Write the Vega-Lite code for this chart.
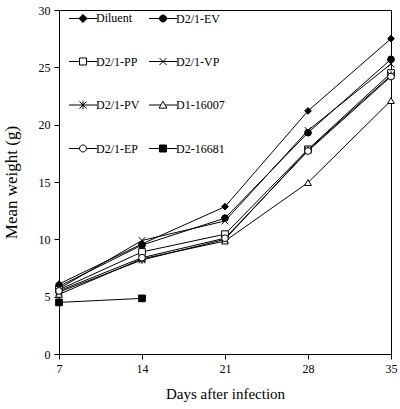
{
  "$schema": "https://vega.github.io/schema/vega-lite/v6.json",
  "autosize": {"type": "none"},
  "padding": {"left": 59, "top": 10, "right": 9, "bottom": 55},
  "width": 332,
  "height": 344,
  "background": "white",
  "data": {
    "values": [
      {"series": "Diluent", "day": 7, "weight": 6.1},
      {"series": "Diluent", "day": 14, "weight": 9.6},
      {"series": "Diluent", "day": 21, "weight": 12.85},
      {"series": "Diluent", "day": 28, "weight": 21.2},
      {"series": "Diluent", "day": 35, "weight": 27.5},
      {"series": "D2/1-EV", "day": 7, "weight": 5.9},
      {"series": "D2/1-EV", "day": 14, "weight": 9.5},
      {"series": "D2/1-EV", "day": 21, "weight": 11.85},
      {"series": "D2/1-EV", "day": 28, "weight": 19.3},
      {"series": "D2/1-EV", "day": 35, "weight": 25.7},
      {"series": "D2/1-PP", "day": 7, "weight": 5.6},
      {"series": "D2/1-PP", "day": 14, "weight": 8.9},
      {"series": "D2/1-PP", "day": 21, "weight": 10.45},
      {"series": "D2/1-PP", "day": 28, "weight": 17.85},
      {"series": "D2/1-PP", "day": 35, "weight": 24.5},
      {"series": "D2/1-VP", "day": 7, "weight": 5.7},
      {"series": "D2/1-VP", "day": 14, "weight": 9.9},
      {"series": "D2/1-VP", "day": 21, "weight": 11.6},
      {"series": "D2/1-VP", "day": 28, "weight": 19.5},
      {"series": "D2/1-VP", "day": 35, "weight": 25.3},
      {"series": "D2/1-PV", "day": 7, "weight": 5.4},
      {"series": "D2/1-PV", "day": 14, "weight": 8.2},
      {"series": "D2/1-PV", "day": 21, "weight": 10.0},
      {"series": "D2/1-PV", "day": 28, "weight": 17.8},
      {"series": "D2/1-PV", "day": 35, "weight": 24.3},
      {"series": "D1-16007", "day": 7, "weight": 5.2},
      {"series": "D1-16007", "day": 14, "weight": 8.3},
      {"series": "D1-16007", "day": 21, "weight": 9.85},
      {"series": "D1-16007", "day": 28, "weight": 14.95},
      {"series": "D1-16007", "day": 35, "weight": 22.1},
      {"series": "D2/1-EP", "day": 7, "weight": 5.5},
      {"series": "D2/1-EP", "day": 14, "weight": 8.4},
      {"series": "D2/1-EP", "day": 21, "weight": 10.1},
      {"series": "D2/1-EP", "day": 28, "weight": 17.7},
      {"series": "D2/1-EP", "day": 35, "weight": 24.2},
      {"series": "D2-16681", "day": 7, "weight": 4.5},
      {"series": "D2-16681", "day": 14, "weight": 4.85}
    ]
  },
  "layer": [
    {
      "mark": {"type": "line", "color": "black", "strokeWidth": 1},
      "encoding": {
        "x": {"field": "day", "type": "quantitative", "scale": {"domain": [7, 35], "nice": false, "zero": false},
              "axis": {"values": [7, 14, 21, 28, 35], "title": "Days after infection", "labelFlush": false}},
        "y": {"field": "weight", "type": "quantitative", "scale": {"domain": [0, 30], "nice": false},
              "axis": {"values": [0, 5, 10, 15, 20, 25, 30], "title": "Mean weight (g)"}},
        "detail": {"field": "series"}
      }
    },
    {
      "mark": {"type": "point", "filled": true, "stroke": "black", "strokeWidth": 1, "opacity": 1, "size": 45},
      "encoding": {
        "x": {"field": "day", "type": "quantitative"},
        "y": {"field": "weight", "type": "quantitative"},
        "shape": {"field": "series", "type": "nominal", "legend": null,
          "scale": {
            "domain": ["Diluent", "D2/1-EV", "D2/1-PP", "D2/1-VP", "D2/1-PV", "D1-16007", "D2/1-EP", "D2-16681"],
            "range": ["diamond", "circle", "square", "M-1,-1L1,1M1,-1L-1,1", "M-1,-1L1,1M1,-1L-1,1M0,-1.2L0,1.2M-1.2,0L1.2,0", "triangle-up", "circle", "square"]
          }},
        "fill": {"field": "series", "type": "nominal", "legend": null,
          "scale": {
            "domain": ["Diluent", "D2/1-EV", "D2/1-PP", "D2/1-VP", "D2/1-PV", "D1-16007", "D2/1-EP", "D2-16681"],
            "range": ["black", "black", "white", "black", "black", "white", "white", "black"]
          }}
      }
    },
    {
      "transform": [{"filter": "false"}],
      "mark": {"type": "point", "filled": true, "stroke": "black", "strokeWidth": 1, "opacity": 1},
      "encoding": {
        "fill": {"field": "series", "type": "nominal", "legend": null,
          "scale": {
            "domain": ["Diluent", "D2/1-EV", "D2/1-PP", "D2/1-VP", "D2/1-PV", "D1-16007", "D2/1-EP", "D2-16681"],
            "range": ["black", "black", "white", "black", "black", "white", "white", "black"]
          }},
        "shape": {"field": "series", "type": "nominal",
          "legend": {"orient": "none", "legendX": 18, "legendY": 2, "columns": 2, "direction": "horizontal",
                     "title": null, "padding": 0,
                     "labelFont": "Liberation Serif", "labelFontSize": 12, "labelColor": "black", "symbolSize": 49,
                     "labelOffset": 7, "rowPadding": 30.5, "columnPadding": 7, "symbolStrokeColor": "black",
                     "symbolFillColor": "white",
                     "symbolStrokeWidth": 1, "symbolOpacity": 1,
                     "encode": {"symbols": {"update": {
                       "stroke": {"value": "black"},
                       "strokeWidth": {"value": 1},
                       "opacity": {"value": 1},
                       "fill": {"signal": "indexof(['Diluent','D2/1-EV','D2/1-VP','D2/1-PV','D2-16681'], datum.value) >= 0 ? 'black' : 'white'"}
                     }}}},
          "scale": {
            "domain": ["Diluent", "D2/1-EV", "D2/1-PP", "D2/1-VP", "D2/1-PV", "D1-16007", "D2/1-EP", "D2-16681"],
            "range": [
              "M-4,0L-1.15,0M-1.15,0L0,-1.15L1.15,0L0,1.15ZM1.15,0L4,0",
              "M-4,0L-1,0M-1,0A1,1,0,1,0,1,0A1,1,0,1,0,-1,0ZM1,0L4,0",
              "M-4,0L-1,0M-1,-1L1,-1L1,1L-1,1ZM1,0L4,0",
              "M-4,0L4,0M-1,-1L1,1M1,-1L-1,1",
              "M-4,0L4,0M-1,-1L1,1M1,-1L-1,1M0,-1.2L0,1.2",
              "M-4,0L-0.6,0M0,-1.1L1.1,0.9L-1.1,0.9ZM0.6,0L4,0",
              "M-4,0L-1,0M-1,0A1,1,0,1,0,1,0A1,1,0,1,0,-1,0ZM1,0L4,0",
              "M-4,0L-1,0M-1,-1L1,-1L1,1L-1,1ZM1,0L4,0"
            ]
          }}
      }
    }
  ],
  "resolve": {
    "scale": {"shape": "independent", "fill": "independent"},
    "legend": {"shape": "independent", "fill": "independent"}
  },
  "config": {
    "view": {"stroke": "black", "strokeWidth": 1},
    "axis": {
      "grid": false,
      "domainColor": "black",
      "tickColor": "black",
      "tickSize": 5,
      "labelPadding": 4,
      "labelColor": "black",
      "titleColor": "black",
      "labelFont": "Liberation Serif",
      "titleFont": "Liberation Serif",
      "labelFontSize": 12,
      "titleFontSize": 15,
      "titleFontWeight": "normal"
    },
    "axisY": {"titlePadding": 18, "titleFontSize": 17},
    "axisX": {"titlePadding": 12}
  }
}
